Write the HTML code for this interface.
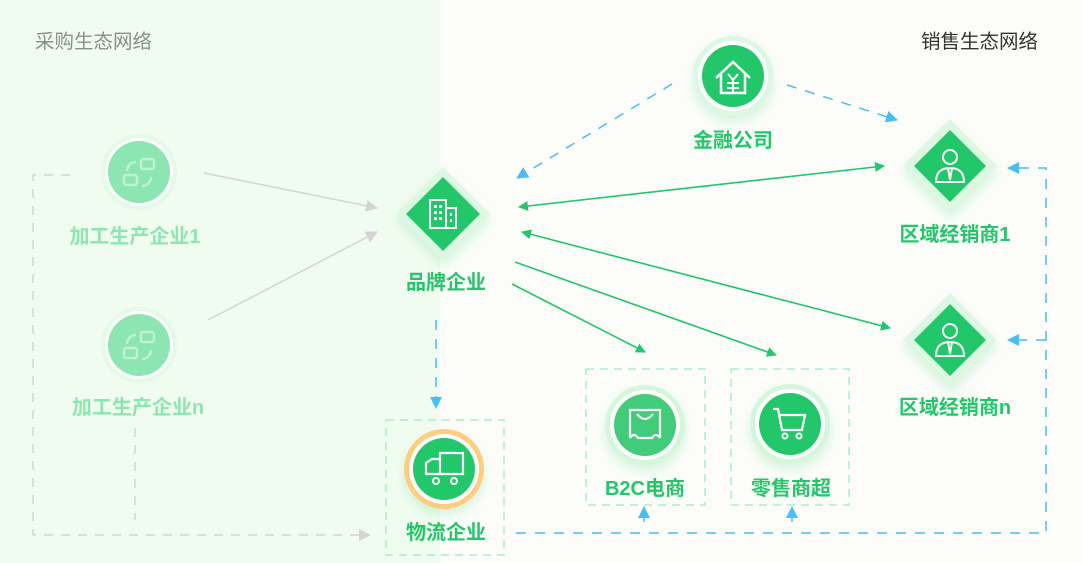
<!DOCTYPE html>
<html><head><meta charset="utf-8"><style>
html,body{margin:0;padding:0;background:#fcfdf8;}
svg{display:block;font-family:"Liberation Sans","Noto Sans CJK SC",sans-serif;}
</style></head><body>
<svg width="1082" height="563" viewBox="0 0 1082 563" xmlns="http://www.w3.org/2000/svg">
<defs>
<marker id="ag" markerWidth="10" markerHeight="10" refX="9" refY="5" orient="auto" markerUnits="userSpaceOnUse"><path d="M0,0 L10,5 L0,10 z" fill="#22c76a"/></marker>
<marker id="ags" markerWidth="10" markerHeight="10" refX="1" refY="5" orient="auto" markerUnits="userSpaceOnUse"><path d="M10,0 L0,5 L10,10 z" fill="#22c76a"/></marker>
<marker id="ab" markerWidth="12" markerHeight="12" refX="11" refY="6" orient="auto" markerUnits="userSpaceOnUse"><path d="M0,0 L12,6 L0,12 z" fill="#45bff5"/></marker>
<marker id="agr" markerWidth="12" markerHeight="12" refX="11" refY="6" orient="auto" markerUnits="userSpaceOnUse"><path d="M0,0 L12,6 L0,12 z" fill="#d4d4d4"/></marker>
<filter id="sh" x="-50%" y="-50%" width="200%" height="200%"><feDropShadow dx="0" dy="6" stdDeviation="5" flood-color="#22c76a" flood-opacity="0.18"/></filter>
</defs>
<rect x="0" y="0" width="440" height="563" fill="#f1fcf0"/>
<text x="35" y="48" font-size="19.5" fill="#8a8f8a">采购生态网络</text>
<text x="1038" y="48" font-size="19.5" fill="#333" text-anchor="end">销售生态网络</text>

<line x1="204" y1="173" x2="377" y2="208" stroke="#d4d4d4" stroke-width="1.5" marker-end="url(#agr)"/>
<line x1="208" y1="320" x2="377" y2="232" stroke="#d4d4d4" stroke-width="1.5" marker-end="url(#agr)"/>
<path d="M70,175 H33 V535 H370" fill="none" stroke="#d4d4d4" stroke-width="1.5" stroke-dasharray="9,8" marker-end="url(#agr)"/>
<line x1="135" y1="428" x2="135" y2="520" stroke="#d4d4d4" stroke-width="1.5" stroke-dasharray="9,8"/>

<line x1="672" y1="84" x2="517" y2="178" stroke="#45bff5" stroke-width="1.5" stroke-dasharray="10,9" marker-end="url(#ab)"/>
<line x1="787" y1="85" x2="897" y2="120" stroke="#45bff5" stroke-width="1.5" stroke-dasharray="10,9" marker-end="url(#ab)"/>
<line x1="436" y1="320" x2="436" y2="408" stroke="#45bff5" stroke-width="1.5" stroke-dasharray="10,9" marker-end="url(#ab)"/>
<path d="M516,533 H1046 V168 H1008" fill="none" stroke="#45bff5" stroke-width="1.5" stroke-dasharray="10,9" marker-end="url(#ab)"/>
<line x1="1046" y1="340" x2="1008" y2="340" stroke="#45bff5" stroke-width="1.5" stroke-dasharray="10,9" marker-end="url(#ab)"/>
<line x1="644" y1="522" x2="644" y2="507" stroke="#45bff5" stroke-width="1.5" marker-end="url(#ab)"/>
<line x1="792" y1="522" x2="792" y2="507" stroke="#45bff5" stroke-width="1.5" marker-end="url(#ab)"/>

<line x1="519" y1="207" x2="884" y2="166" stroke="#22c76a" stroke-width="1.6" marker-start="url(#ags)" marker-end="url(#ag)"/>
<line x1="522" y1="232" x2="890" y2="328" stroke="#22c76a" stroke-width="1.6" marker-start="url(#ags)" marker-end="url(#ag)"/>
<line x1="512" y1="284" x2="645" y2="352" stroke="#22c76a" stroke-width="1.6" marker-end="url(#ag)"/>
<line x1="515" y1="262" x2="776" y2="355" stroke="#22c76a" stroke-width="1.6" marker-end="url(#ag)"/>

<g fill="none" stroke="#a8efc6" stroke-width="1.5" stroke-dasharray="8,6">
<rect x="386" y="420" width="118" height="135"/>
<rect x="586" y="369" width="119" height="136"/>
<rect x="731" y="369" width="118" height="136"/>
</g>

<g>
<circle cx="139" cy="172" r="38" fill="#e3fae6"/>
<circle cx="139" cy="172" r="34" fill="#fff"/>
<circle cx="139" cy="172" r="31" fill="#8ce6b2"/>
<g fill="none" stroke="#c2f0d4" stroke-width="2.5"><rect x="141" y="159" width="13" height="10" rx="2"/><rect x="124" y="175" width="13" height="10" rx="2"/><path d="M136,162 a9,9 0 0 0 -9,9"/><path d="M142,186 a9,9 0 0 0 9,-9"/></g>
<text x="135" y="243" font-size="20" font-weight="bold" fill="#8ce6b2" text-anchor="middle">加工生产企业1</text>
</g>
<g>
<circle cx="139" cy="345" r="38" fill="#e3fae6"/>
<circle cx="139" cy="345" r="34" fill="#fff"/>
<circle cx="139" cy="345" r="31" fill="#8ce6b2"/>
<g fill="none" stroke="#c2f0d4" stroke-width="2.5"><rect x="141" y="332" width="13" height="10" rx="2"/><rect x="124" y="348" width="13" height="10" rx="2"/><path d="M136,335 a9,9 0 0 0 -9,9"/><path d="M142,359 a9,9 0 0 0 9,-9"/></g>
<text x="138" y="414" font-size="20" font-weight="bold" fill="#8ce6b2" text-anchor="middle">加工生产企业n</text>
</g>

<g filter="url(#sh)">
<path d="M443,167 L490,214 L443,261 L396,214 z" fill="#dcf8e2"/>
<path d="M443,177 L480,214 L443,251 L406,214 z" fill="#22c76a"/>
</g>
<g fill="none" stroke="#fff" stroke-width="2"><rect x="430" y="200" width="16" height="28"/><rect x="446" y="208" width="10" height="20"/></g>
<g fill="#fff"><rect x="434" y="205" width="3" height="3"/><rect x="439" y="205" width="3" height="3"/><rect x="434" y="211" width="3" height="3"/><rect x="439" y="211" width="3" height="3"/><rect x="434" y="217" width="3" height="3"/><rect x="439" y="217" width="3" height="3"/><rect x="450" y="213" width="2" height="3"/><rect x="450" y="219" width="2" height="3"/></g>
<text x="446" y="289" font-size="20" font-weight="bold" fill="#22c76a" text-anchor="middle">品牌企业</text>

<g filter="url(#sh)">
<circle cx="733" cy="76" r="40" fill="#dcf8e2"/>
<circle cx="733" cy="76" r="35" fill="#fff"/>
<circle cx="733" cy="76" r="31" fill="#22c76a"/>
</g>
<path d="M716,78 L733,62 L750,78 M721,74 V93 H745 V74" fill="none" stroke="#fff" stroke-width="2.5"/>
<path d="M728,74 L733,80 L738,74 M733,80 V92 M727,83 H739 M727,88 H739" fill="none" stroke="#fff" stroke-width="2"/>
<text x="733" y="147" font-size="20" font-weight="bold" fill="#22c76a" text-anchor="middle">金融公司</text>

<g>
<g filter="url(#sh)">
<path d="M950,119 L997,166 L950,213 L903,166 z" fill="#dcf8e2"/>
<path d="M950,130 L986,166 L950,202 L914,166 z" fill="#22c76a"/>
</g>
<circle cx="950" cy="157" r="7" fill="none" stroke="#fff" stroke-width="2"/>
<path d="M936,182 q0,-14 14,-14 q14,0 14,14 z M948,168 l2,12 l2,-12" fill="none" stroke="#fff" stroke-width="2"/>
<text x="955" y="241" font-size="20" font-weight="bold" fill="#22c76a" text-anchor="middle">区域经销商1</text>
</g>
<g>
<g filter="url(#sh)">
<path d="M950,293 L997,340 L950,387 L903,340 z" fill="#dcf8e2"/>
<path d="M950,304 L986,340 L950,376 L914,340 z" fill="#22c76a"/>
</g>
<circle cx="950" cy="331" r="7" fill="none" stroke="#fff" stroke-width="2"/>
<path d="M936,356 q0,-14 14,-14 q14,0 14,14 z M948,342 l2,12 l2,-12" fill="none" stroke="#fff" stroke-width="2"/>
<text x="955" y="414" font-size="20" font-weight="bold" fill="#22c76a" text-anchor="middle">区域经销商n</text>
</g>

<g filter="url(#sh)">
<circle cx="444" cy="469" r="40" fill="#ffcd7c"/>
<circle cx="444" cy="469" r="35" fill="#fff"/>
<circle cx="444" cy="469" r="31" fill="#22c76a"/>
</g>
<path d="M440,453 H463 V474 H426 V463 L432,459 H440 z M440,453 V474" fill="none" stroke="#fff" stroke-width="2.2"/>
<circle cx="436" cy="481" r="3" fill="#22c76a" stroke="#fff" stroke-width="2"/>
<circle cx="454" cy="481" r="3" fill="#22c76a" stroke="#fff" stroke-width="2"/>
<text x="446" y="539" font-size="20" font-weight="bold" fill="#22c76a" text-anchor="middle">物流企业</text>

<g filter="url(#sh)">
<circle cx="645" cy="425" r="40" fill="#d4f7dc"/>
<circle cx="645" cy="425" r="35" fill="#fff"/>
<circle cx="645" cy="425" r="31" fill="#3fcc78"/>
</g>
<path d="M630,438 V410 H660 V438 M637,414 q8,10 16,0 M630,438 q4,-6 8,0 H652 q4,-6 8,0" fill="none" stroke="#fff" stroke-width="2.2"/>
<text x="645" y="495" font-size="20" font-weight="bold" fill="#22c76a" text-anchor="middle">B2C电商</text>

<g filter="url(#sh)">
<circle cx="790" cy="424" r="40" fill="#d4f7dc"/>
<circle cx="790" cy="424" r="35" fill="#fff"/>
<circle cx="790" cy="424" r="31" fill="#22c76a"/>
</g>
<path d="M773,409 H778 L782,430 H802 L805,415 H779" fill="none" stroke="#fff" stroke-width="2.2"/>
<circle cx="785" cy="436" r="2.5" fill="none" stroke="#fff" stroke-width="2"/>
<circle cx="799" cy="436" r="2.5" fill="none" stroke="#fff" stroke-width="2"/>
<text x="791" y="495" font-size="20" font-weight="bold" fill="#22c76a" text-anchor="middle">零售商超</text>
</svg>
</body></html>
